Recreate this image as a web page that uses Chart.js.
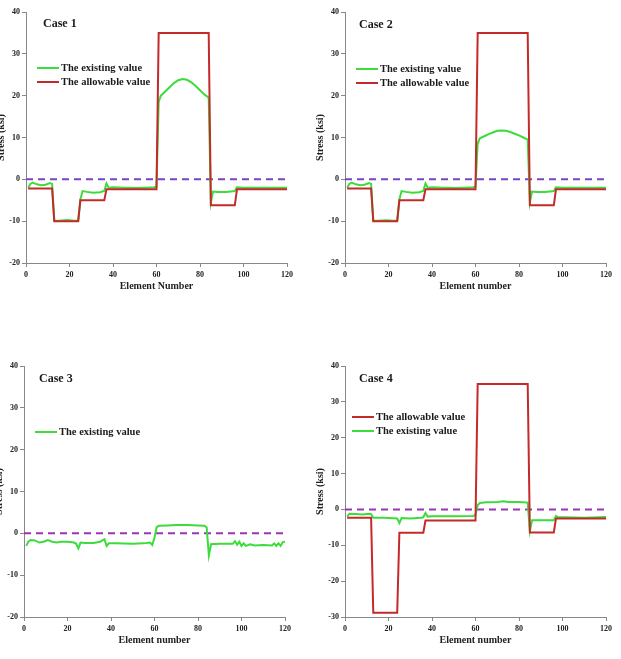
<!DOCTYPE html>
<html>
<head>
<meta charset="utf-8">
<script src="https://cdn.jsdelivr.net/npm/chart.js@4/dist/chart.umd.min.js"></script>
<style>
  html, body { margin: 0; padding: 0; background: #fff; }
  body { width: 621px; height: 659px; position: relative; overflow: hidden; }
  canvas { position: absolute; }
</style>
</head>
<body>
<canvas id="c1" width="311" height="298" style="left:-9px;top:0px"></canvas>
<canvas id="c2" width="311" height="298" style="left:310px;top:0px"></canvas>
<canvas id="c3" width="311" height="298" style="left:-11px;top:354px"></canvas>
<canvas id="c4" width="311" height="298" style="left:310px;top:354px"></canvas>
<script>
// allowable stress, step breakpoints (element number)
var stepX = [1, 12, 13, 24, 25, 36, 37, 60, 61, 84, 85, 96, 97, 120];
var allow12 = [-2.2, -2.2, -10, -10, -5, -5, -2.4, -2.4, 35, 35, -6.2, -6.2, -2.4, -2.4];
var allow4 = [-2.3, -2.3, -28.8, -28.8, -6.5, -6.5, -3.1, -3.1, 35, 35, -6.4, -6.4, -2.5, -2.5];

// existing stress
var exist12X = [1, 2, 3, 5, 7, 9, 11, 12, 13, 15, 19, 22, 24, 25, 26, 28, 31, 34, 36, 37, 38, 40, 45, 50, 55, 59, 60,
  61, 62, 64, 66, 68, 70, 72, 74, 76, 78, 80, 82, 84, 85, 86, 88, 92, 96, 97, 100, 105, 110, 115, 120];
var exist1 = [-2.0, -1.1, -0.8, -1.2, -1.4, -1.3, -0.9, -1.1, -9.9, -9.9, -9.7, -9.9, -9.9, -4.8, -2.8, -3.0, -3.2, -3.1, -2.8, -1.0, -2.0, -1.9, -2.0, -2.1, -2.0, -1.9, -1.7,
  18.5, 20.0, 21.0, 22.0, 23.0, 23.7, 24.0, 23.8, 23.2, 22.3, 21.3, 20.3, 19.5, -5.5, -2.9, -3.0, -3.0, -2.8, -1.9, -2.0, -2.0, -2.0, -2.0, -2.0];
var exist2 = [-2.0, -1.1, -0.8, -1.2, -1.4, -1.3, -0.9, -1.1, -9.9, -9.9, -9.8, -9.9, -9.9, -4.8, -2.8, -3.0, -3.2, -3.1, -2.8, -1.0, -2.0, -1.9, -2.0, -2.1, -2.0, -1.9, -1.7,
  8.5, 9.8, 10.3, 10.8, 11.2, 11.6, 11.7, 11.6, 11.3, 10.9, 10.5, 10.0, 9.5, -5.5, -2.9, -3.0, -3.0, -2.8, -1.9, -2.0, -2.0, -2.0, -2.0, -2.0];

var exist3X = [1, 2, 3, 5, 7, 9, 11, 13, 15, 17, 20, 23, 24, 25, 26, 28, 32, 35, 37, 38, 39, 42, 50, 55, 58, 59, 60,
  61, 62, 66, 70, 75, 80, 83, 84, 85, 86, 90, 96, 97, 98, 99, 100, 101, 102, 104, 106, 110, 114, 115, 116, 117, 118, 119, 120];
var exist3 = [-3.0, -2.0, -1.6, -1.7, -2.2, -2.0, -1.6, -2.0, -2.2, -2.0, -2.0, -2.2, -2.5, -3.6, -2.2, -2.3, -2.3, -2.0, -1.4, -3.0, -2.4, -2.4, -2.5, -2.4, -2.2, -2.8, -1.0,
  1.5, 1.8, 1.9, 2.0, 2.0, 1.9, 1.8, 1.4, -5.3, -2.6, -2.5, -2.5, -1.9, -2.7, -2.0, -3.0, -2.4, -3.0, -2.6, -2.9, -2.8, -2.9, -2.4, -3.0, -2.4, -3.0, -2.1, -2.0];

var exist4X = [1, 2, 5, 8, 11, 12, 13, 18, 24, 25, 26, 30, 35, 36, 37, 38, 40, 50, 59, 60,
  61, 62, 65, 70, 73, 75, 80, 84, 85, 86, 90, 96, 97, 98, 100, 110, 120];
var exist4 = [-2.0, -1.2, -1.3, -1.4, -1.2, -1.3, -2.3, -2.3, -2.5, -3.8, -2.4, -2.5, -2.3, -2.2, -1.0, -2.0, -1.9, -1.9, -1.8, -1.5,
  1.2, 1.8, 2.0, 2.1, 2.3, 2.1, 2.1, 1.9, -6.0, -3.0, -3.0, -3.0, -1.8, -2.2, -2.2, -2.3, -2.1];

var caseNames = ['Case 1', 'Case 2', 'Case 3', 'Case 4'];
var xTitles = ['Element Number', 'Element number', 'Element number', 'Element number'];
var yTitle = 'Stress (ksi)';
var existLabel = 'The existing value';
var allowLabel = 'The allowable value';

var GREEN = '#3cdc3c';
var RED = '#c42a2a';
var SERIF = '"Liberation Serif", "Times New Roman", serif';

function pts(xs, ys) {
  var out = [];
  for (var i = 0; i < xs.length; i++) out.push({x: xs[i], y: ys[i]});
  return out;
}

// draws the "Case N" label and the inside legend
var panelLabels = {
  id: 'panelLabels',
  afterDatasetsDraw: function(chart, args, opts) {
    var ctx = chart.ctx, a = chart.chartArea;
    ctx.save();
    ctx.fillStyle = '#1a1a1a';
    ctx.textBaseline = 'middle';
    ctx.textAlign = 'left';
    ctx.font = 'bold 12px ' + SERIF;
    ctx.fillText(opts.caseText, a.left + opts.caseX, a.top + opts.caseY);
    ctx.font = 'bold 10.5px ' + SERIF;
    for (var i = 0; i < opts.items.length; i++) {
      var ds = chart.data.datasets[opts.items[i]];
      var y = a.top + opts.legY + i * 14;
      ctx.strokeStyle = ds.borderColor;
      ctx.lineWidth = 2;
      ctx.beginPath();
      ctx.moveTo(a.left + opts.legX, y);
      ctx.lineTo(a.left + opts.legX + 22, y);
      ctx.stroke();
      ctx.fillText(ds.label, a.left + opts.legX + 24, y + 0.5);
    }
    ctx.restore();
  }
};

function build_chart(id, datasets, ymin, opts) {
  var ctx = document.getElementById(id).getContext('2d');
  var axisStyle = {
    grid: {drawOnChartArea: false, drawTicks: true, tickLength: 4, color: '#888'},
    border: {color: '#888', width: 1}
  };
  return new Chart(ctx, {
    type: 'line',
    data: {datasets: datasets},
    options: {
      responsive: false,
      animation: false,
      layout: {padding: {top: 12, right: 15, left: 0, bottom: 0}},
      plugins: {legend: {display: false}, tooltip: {enabled: false}, panelLabels: opts},
      elements: {point: {radius: 0}, line: {tension: 0}},
      scales: {
        x: Object.assign({
          type: 'linear', min: 0, max: 120,
          ticks: {stepSize: 20, padding: 3, color: '#222', font: {family: SERIF, size: 8, weight: 'bold'}},
          title: {display: true, text: opts.xTitle, color: '#222', padding: {top: 0, bottom: 6},
            font: {family: SERIF, size: 10, weight: 'bold'}},
          afterFit: function(s) { s.height = 35; }
        }, axisStyle),
        y: Object.assign({
          min: ymin, max: 40,
          ticks: {stepSize: 10, padding: 2, color: '#222', font: {family: SERIF, size: 8, weight: 'bold'}},
          title: {display: true, text: yTitle, color: '#222', padding: {top: 4, bottom: 0},
            font: {family: SERIF, size: 10, weight: 'bold'}},
          afterFit: function(s) { s.width = 35; }
        }, axisStyle)
      }
    },
    plugins: [panelLabels]
  });
}

function zeroLine(color) {
  return {label: 'zero', data: [{x: 0, y: 0}, {x: 120, y: 0}], borderColor: color,
    borderWidth: 2, borderDash: [7, 5], order: 3};
}
function existSet(xs, ys) {
  return {label: existLabel, data: pts(xs, ys), borderColor: GREEN, borderWidth: 2, order: 2};
}
function allowSet(ys) {
  return {label: allowLabel, data: pts(stepX, ys), borderColor: RED, borderWidth: 2, order: 1};
}

window.onload = function() {
  build_chart('c1', [existSet(exist12X, exist1), allowSet(allow12), zeroLine('#7844c4')], -20,
    {caseText: caseNames[0], xTitle: xTitles[0], caseX: 17, caseY: 12, legX: 11, legY: 56, items: [0, 1]});
  build_chart('c2', [existSet(exist12X, exist2), allowSet(allow12), zeroLine('#7844c4')], -20,
    {caseText: caseNames[1], xTitle: xTitles[1], caseX: 14, caseY: 13, legX: 11, legY: 57, items: [0, 1]});
  build_chart('c3', [existSet(exist3X, exist3), zeroLine('#9a34b4')], -20,
    {caseText: caseNames[2], xTitle: xTitles[2], caseX: 15, caseY: 13, legX: 11, legY: 66, items: [0]});
  build_chart('c4', [allowSet(allow4), existSet(exist4X, exist4), zeroLine('#9a34b4')], -30,
    {caseText: caseNames[3], xTitle: xTitles[3], caseX: 14, caseY: 13, legX: 7, legY: 51, items: [0, 1]});
};
</script>
</body>
</html>
